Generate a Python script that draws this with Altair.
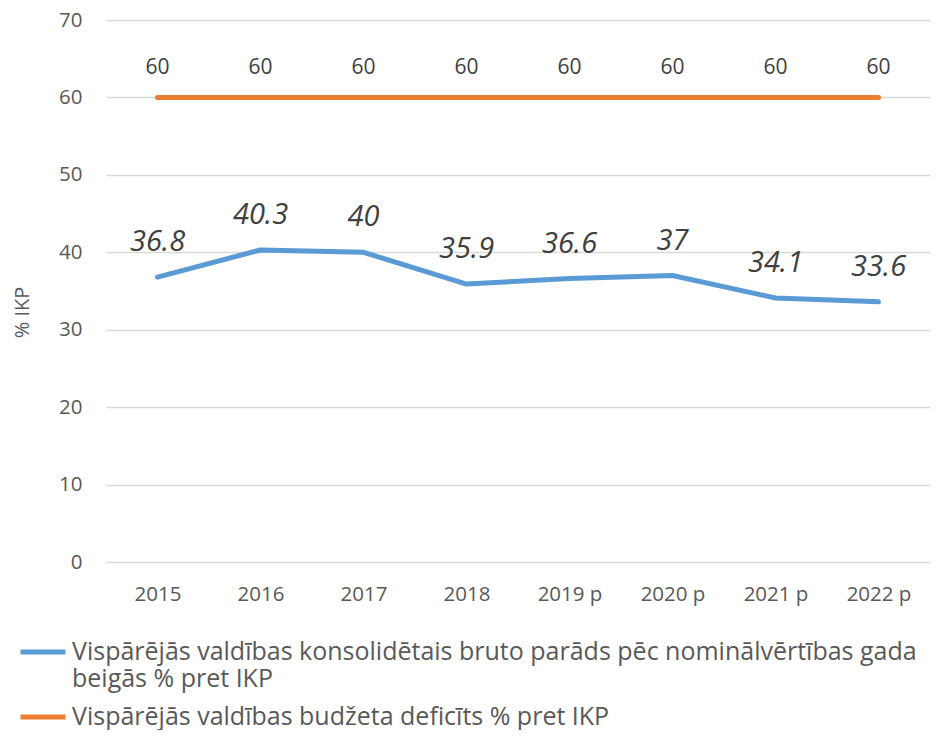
import altair as alt
import pandas as pd

years = ["2015", "2016", "2017", "2018", "2019 p", "2020 p", "2021 p", "2022 p"]
debt = [36.8, 40.3, 40.0, 35.9, 36.6, 37.0, 34.1, 33.6]
limit = [60, 60, 60, 60, 60, 60, 60, 60]
s1 = "Vispārējās valdības konsolidētais bruto parāds pēc nominālvērtības gada beigās % pret IKP"
s2 = "Vispārējās valdības budžeta deficīts % pret IKP"
s1_lines = ["Vispārējās valdības konsolidētais bruto parāds pēc nominālvērtības gada", "beigās % pret IKP"]

rows = []
for y, v in zip(years, debt):
    rows.append({"year": y, "value": v, "series": s1})
for y, v in zip(years, limit):
    rows.append({"year": y, "value": v, "series": s2})
df = pd.DataFrame(rows)

FONT = "Open Sans"
label_expr = "datum.label == '%s' ? ['%s', '%s'] : datum.label" % (s1, s1_lines[0], s1_lines[1])

base = alt.Chart(df).encode(
    x=alt.X("year:N", sort=years,
            scale=alt.Scale(type="point", padding=0.5),
            axis=alt.Axis(title=None, labelAngle=0, labelFontSize=20.5, labelColor="#595959",
                          labelFont=FONT, ticks=False, domain=False, grid=False, labelPadding=22)),
    y=alt.Y("value:Q", scale=alt.Scale(domain=[0, 70], nice=False),
            axis=alt.Axis(title="% IKP", values=[0, 10, 20, 30, 40, 50, 60, 70],
                          labelFontSize=20.5, labelColor="#595959", labelFont=FONT,
                          ticks=False, domain=False, gridColor="#d9d9d9", gridWidth=1.5,
                          labelPadding=24, titleFontSize=20, titleColor="#595959",
                          titleFont=FONT, titleFontWeight="normal",
                          titleX=-84, titleY=292, titleAngle=-90, titleBaseline="middle",
                          titleAlign="center")),
)

lines = base.mark_line(strokeWidth=5, strokeCap="round", strokeJoin="round").encode(
    color=alt.Color("series:N",
                    scale=alt.Scale(domain=[s1, s2], range=["#5B9BD5", "#ED7D31"]),
                    legend=alt.Legend(title=None, orient="none", legendX=-88, legendY=607,
                                      symbolType="stroke", symbolSize=2025, symbolStrokeWidth=5,
                                      labelFontSize=25, labelFont=FONT, labelColor="#595959",
                                      labelLimit=1000, labelOffset=4, rowPadding=0,
                                      padding=0, labelExpr=label_expr))
)

debt_labels = base.transform_filter(alt.datum.series == s1).mark_text(
    font=FONT, fontSize=29, fontStyle="italic", color="#404040",
    baseline="alphabetic", dy=-26
).encode(text=alt.Text("value:Q", format=".1~f"))

limit_labels = base.transform_filter(alt.datum.series == s2).mark_text(
    font=FONT, fontSize=21, color="#404040", baseline="alphabetic", dy=-23
).encode(text=alt.Text("value:Q", format="d"))

chart = alt.layer(lines, debt_labels, limit_labels).properties(
    width=824, height=542,
    autosize=alt.AutoSizeParams(type="none"),
    padding={"left": 98, "top": 12, "right": 2, "bottom": 168},
).configure(background="white").configure_view(stroke=None)

chart.save("out.html", embed_options={"renderer": "svg", "actions": False})
